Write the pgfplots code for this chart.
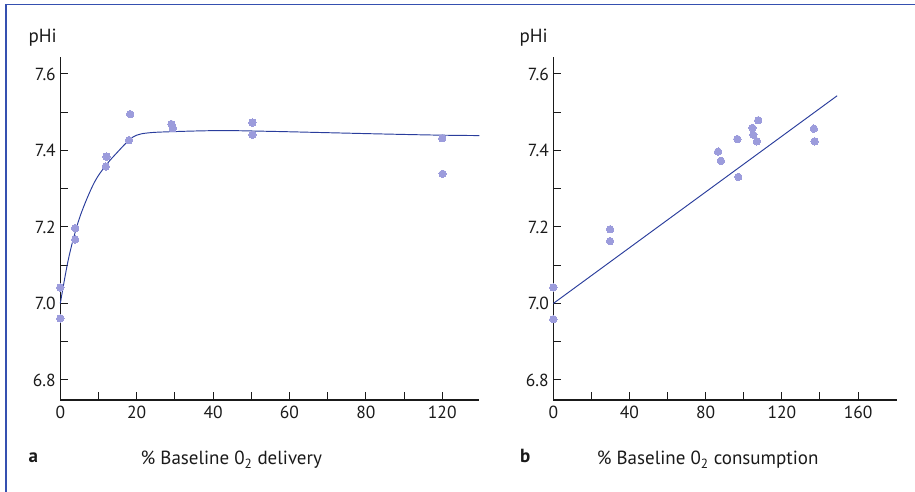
\documentclass[border=0pt]{standalone}
\usepackage{fontspec}
\setmainfont{PT Sans}
\usepackage{pgfplots}
\pgfplotsset{compat=1.18}
\definecolor{dotcol}{HTML}{9C9CDC}
\definecolor{linecol}{HTML}{2A3D9C}
\definecolor{framecol}{HTML}{3550B0}
\definecolor{axcol}{HTML}{1A1A1A}
\begin{document}
\begin{tikzpicture}
\useasboundingbox (0,0) rectangle (915pt,492pt);
\draw[framecol, line width=1.6pt] (6pt,0pt) -- (6pt,487.5pt) -- (915pt,487.5pt);
\pgfplotsset{
  myax/.style={
    scale only axis, height=343pt,
    axis x line*=bottom, axis y line*=left,
    axis line style={-, line width=1.5pt, draw=axcol},
    tick style={line width=1pt, draw=axcol},
    tick align=inside, major tick length=7.5pt,
    ymin=6.7477, ymax=7.6444,
    ytick={6.8,6.9,7.0,7.1,7.2,7.3,7.4,7.5,7.6},
    yticklabels={6.8,,7.0,,7.2,,7.4,,7.6},
    ticklabel style={font=\fontsize{17.5}{20}\selectfont, text=axcol},
    xticklabel style={yshift=-3pt},
    yticklabel style={xshift=-1pt},
    /pgf/number format/assume math mode=true,
    clip=false,
  },
  dots/.style={only marks, mark=*, color=dotcol, mark size=3.7pt, mark options={draw=dotcol, fill=dotcol, line width=0pt}},
}
% Panel a
\begin{axis}[myax, at={(60.3pt,92pt)}, anchor=south west, width=419pt,
  xmin=0, xmax=109.7,
  xtick={0,10,20,30,40,50,60,70,80,90,100},
  xticklabels={0,,20,,40,,60,,80,,120}]
\addplot[linecol, line width=0.95pt, smooth, tension=0.6] coordinates {
(0,7.0) (2,7.11) (4,7.19) (6,7.25) (9,7.318) (12,7.362) (15,7.396) (18,7.427) (20,7.44) (23,7.446) (28.7,7.449) (41.8,7.452) (55,7.45) (68,7.447) (85,7.443) (100,7.44) (109.7,7.439)};
\addplot[dots] coordinates {
(0,7.042) (0,6.961) (3.9,7.197) (3.9,7.167) (12.1,7.384) (11.9,7.358) (18.3,7.495) (18,7.427) (29.1,7.469) (29.5,7.458) (50.3,7.473) (50.3,7.441) (100,7.432) (100.1,7.339)};
\end{axis}
% Panel b
\begin{axis}[myax, at={(553.3pt,92pt)}, anchor=south west, width=344pt,
  xmin=0, xmax=180.6,
  xtick={0,20,40,60,80,100,120,140,160},
  xticklabels={0,,40,,80,,120,,160}]
\addplot[linecol, line width=0.95pt] coordinates {(0,7.0) (149,7.543)};
\addplot[dots] coordinates {
(0,7.042) (0,6.959) (29.8,7.194) (29.8,7.163) (86.5,7.397) (88,7.373) (96.6,7.430) (97.1,7.331) (104.5,7.459) (105,7.441) (106.9,7.424) (107.6,7.479) (136.8,7.457) (137.2,7.424)};
\end{axis}
\node[anchor=base west, inner sep=0, font=\fontsize{19}{22}\selectfont, text=axcol] at (28.3pt,449pt) {pHi};
\node[anchor=base west, inner sep=0, font=\fontsize{19}{22}\selectfont, text=axcol] at (519.3pt,449pt) {pHi};
\node[anchor=base west, inner sep=0, font=\fontsize{19}{22}\selectfont\bfseries, text=axcol] at (28.3pt,29pt) {a};
\node[anchor=base west, inner sep=0, font=\fontsize{19}{22}\selectfont\bfseries, text=axcol] at (520pt,29pt) {b};
\node[anchor=base, inner sep=0, font=\fontsize{19}{22}\selectfont, text=axcol] at (231.3pt,27pt) {\% Baseline 0\textsubscript{2} delivery};
\node[anchor=base, inner sep=0, font=\fontsize{19}{22}\selectfont, text=axcol] at (707.7pt,27pt) {\% Baseline 0\textsubscript{2} consumption};
\end{tikzpicture}
\end{document}
